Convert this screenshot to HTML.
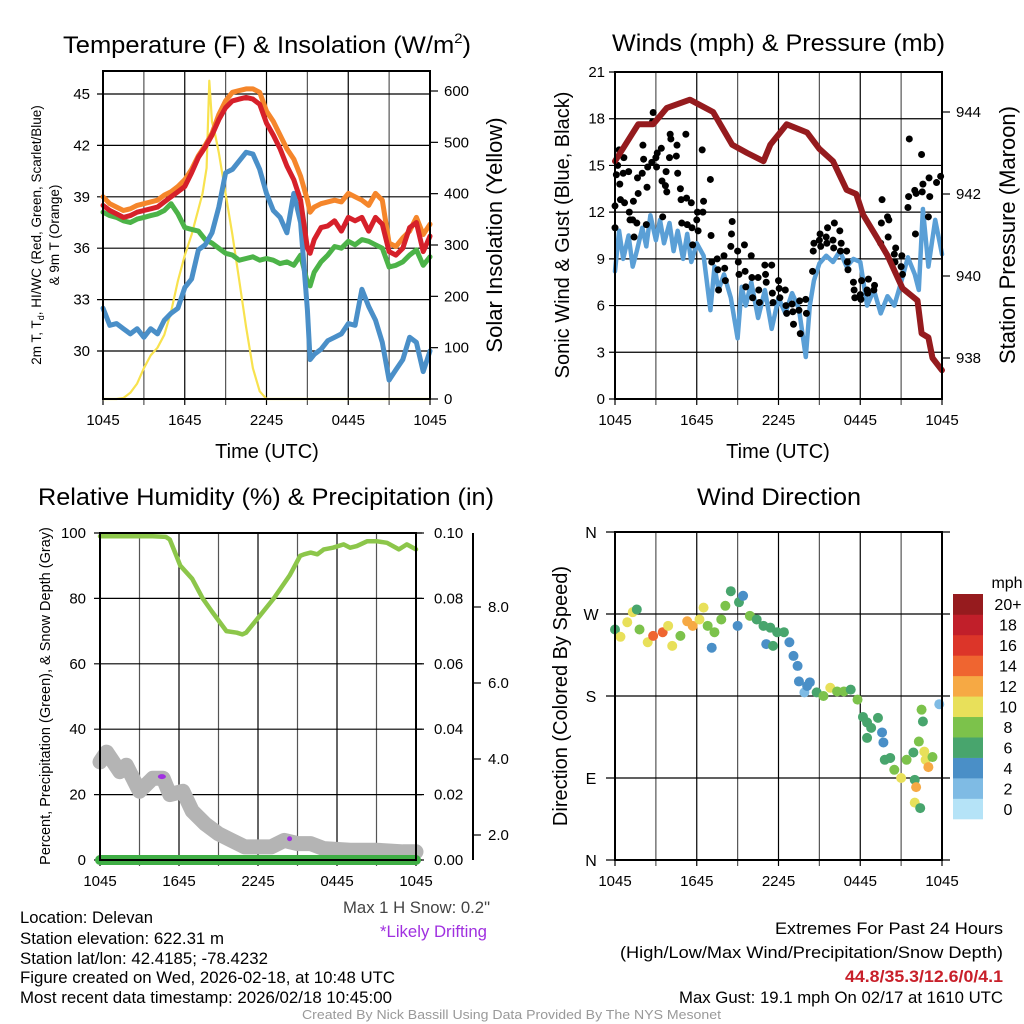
<!DOCTYPE html>
<html><head><meta charset="utf-8"><style>
html,body{margin:0;padding:0;background:#fff;}
svg{display:block;font-family:"Liberation Sans",Arial,sans-serif;}
</style></head><body>
<svg id="c" xmlns="http://www.w3.org/2000/svg" width="1024" height="1024" viewBox="0 0 1024 1024">
<rect width="1024" height="1024" fill="#fff"/>
<text x="63" y="53" font-size="24" textLength="408" lengthAdjust="spacingAndGlyphs">Temperature (F) &amp; Insolation (W/m<tspan font-size="14" dy="-10">2</tspan><tspan dy="10">)</tspan></text>
<text x="612" y="51" font-size="24" textLength="333" lengthAdjust="spacingAndGlyphs">Winds (mph) &amp; Pressure (mb)</text>
<text x="38" y="505" font-size="24" textLength="456" lengthAdjust="spacingAndGlyphs">Relative Humidity (%) &amp; Precipitation (in)</text>
<text x="697" y="505" font-size="24" textLength="164" lengthAdjust="spacingAndGlyphs">Wind Direction</text>
<text x="267" y="458" font-size="20" text-anchor="middle">Time (UTC)</text>
<text x="778" y="458" font-size="20" text-anchor="middle">Time (UTC)</text>
<text transform="translate(41,235) rotate(-90)" font-size="13.5" text-anchor="middle">2m T, T<tspan font-size="9" dy="3">d</tspan><tspan dy="-3">, HI/WC (Red, Green, Scarlet/Blue)</tspan></text>
<text transform="translate(59,235) rotate(-90)" font-size="13.5" text-anchor="middle">&amp; 9m T (Orange)</text>
<text transform="translate(502,235) rotate(-90)" font-size="22" text-anchor="middle">Solar Insolation (Yellow)</text>
<text transform="translate(569,235) rotate(-90)" font-size="20" text-anchor="middle">Sonic Wind &amp; Gust (Blue, Black)</text>
<text transform="translate(1015,235) rotate(-90)" font-size="22" text-anchor="middle">Station Pressure (Maroon)</text>
<text transform="translate(50,696) rotate(-90)" font-size="14.5" text-anchor="middle">Percent, Precipitation (Green), &amp; Snow Depth (Gray)</text>
<text transform="translate(567,696) rotate(-90)" font-size="20" text-anchor="middle">Direction (Colored By Speed)</text>
<g font-size="17">
<text x="20" y="923" textLength="133" lengthAdjust="spacingAndGlyphs">Location: Delevan</text>
<text x="20" y="944" textLength="204" lengthAdjust="spacingAndGlyphs">Station elevation: 622.31 m</text>
<text x="20" y="964" textLength="248" lengthAdjust="spacingAndGlyphs">Station lat/lon: 42.4185; -78.4232</text>
<text x="20" y="983" textLength="375" lengthAdjust="spacingAndGlyphs">Figure created on Wed, 2026-02-18, at 10:48 UTC</text>
<text x="20" y="1003" textLength="372" lengthAdjust="spacingAndGlyphs">Most recent data timestamp: 2026/02/18 10:45:00</text>
<text x="343" y="913" fill="#444" textLength="147" lengthAdjust="spacingAndGlyphs">Max 1 H Snow: 0.2"</text>
<text x="380" y="937" fill="#a030e0" textLength="107" lengthAdjust="spacingAndGlyphs">*Likely Drifting</text>
<text x="775" y="934" textLength="228" lengthAdjust="spacingAndGlyphs">Extremes For Past 24 Hours</text>
<text x="620" y="958" textLength="383" lengthAdjust="spacingAndGlyphs">(High/Low/Max Wind/Precipitation/Snow Depth)</text>
<text x="845" y="982" fill="#c8202a" font-weight="bold" textLength="158" lengthAdjust="spacingAndGlyphs">44.8/35.3/12.6/0/4.1</text>
<text x="679" y="1003" textLength="324" lengthAdjust="spacingAndGlyphs">Max Gust: 19.1 mph On 02/17 at 1610 UTC</text>
<text x="302" y="1019" font-size="13" fill="#999" textLength="419" lengthAdjust="spacingAndGlyphs">Created By Nick Bassill Using Data Provided By The NYS Mesonet</text>
</g>
</svg>
<script>
var xTickLabels = ["1045","1645","2245","0445","1045"];
var tempTicks = [30,33,36,39,42,45];
var solarTicks = [0,100,200,300,400,500,600];
var windTicks = [0,3,6,9,12,15,18,21];
var presTicks = [938,940,942,944];
var rhTicks = [0,20,40,60,80,100];
var precipTicks = ["0.00","0.02","0.04","0.06","0.08","0.10"];
var snowTicks = [2,4,6,8];
var dirLabels = ["N","E","S","W","N"];
var cbLabels = ["0","2","4","6","8","10","12","14","16","18","20+"];
var cbColors = ["#b5e3f7","#7fbbe4","#4a8fc7","#48a56d","#7cc24b","#e8e05a","#f6a944","#ef6530","#dc3529","#c11f2a","#961b1e"];

var tempT = [0,0.5,1,1.5,2,2.5,3,3.5,4,4.5,5,5.5,6,6.5,7,7.5,8,8.5,9,9.5,10,10.5,11,11.5,12,12.5,13,13.5,14,14.5,15,15.2,15.5,16,16.5,17,17.5,18,18.5,19,19.5,20,20.5,21,21.5,22,22.5,23,23.5,24];
var redT = [38.5,38.2,38.0,37.8,37.9,38.1,38.2,38.3,38.4,38.7,39.0,39.3,39.6,40.4,41.3,41.9,42.6,43.5,44.2,44.6,44.7,44.8,44.7,44.4,43.3,42.6,41.8,40.8,40.0,38.8,36.0,35.7,36.5,37.2,37.3,37.6,37.0,37.8,37.6,37.8,37.0,37.8,37.4,35.8,35.6,36.0,37.2,37.5,35.8,36.7];
var orangeT = [39.0,38.6,38.4,38.2,38.3,38.5,38.6,38.7,38.8,39.1,39.3,39.6,40.0,40.6,41.4,42.0,42.7,43.8,44.6,45.1,45.2,45.3,45.3,45.1,44.0,43.4,42.6,41.8,41.2,40.2,38.8,38.1,38.4,38.6,38.7,38.8,38.7,39.2,39.0,38.8,38.5,39.2,38.8,36.3,36.1,36.6,37.0,37.8,36.8,37.4];
var greenT = [38.1,37.9,37.8,37.6,37.5,37.7,37.8,37.9,38.0,38.2,38.6,38.0,37.2,37.1,37.0,36.5,36.3,36.0,35.7,35.6,35.3,35.4,35.5,35.3,35.4,35.3,35.1,35.2,35.0,35.6,34.0,33.8,34.6,35.2,35.6,36.1,36.0,36.4,36.2,36.5,36.4,36.2,36.0,34.9,35.0,35.2,35.6,35.9,35.0,35.5];
var blueT = [32.5,31.5,31.6,31.3,31.0,31.3,30.8,31.3,31.0,31.8,32.2,32.5,33.7,34.2,35.9,36.2,36.9,38.4,40.4,40.6,41.1,41.6,41.5,40.6,39.2,38.2,37.8,36.9,39.2,37.5,32.4,29.5,29.8,30.1,30.6,30.8,31.0,31.6,31.5,33.6,32.6,31.8,30.5,28.3,28.9,29.5,30.8,30.5,28.8,30.0];
var solarT = [0,1,1.5,2,2.5,3,3.5,4,4.5,5,5.5,6,6.5,7,7.3,7.6,7.8,8,8.2,8.5,9,9.5,10,10.5,11,11.5,12,13,16,20,24];
var solarV = [0,0,2,12,30,60,85,100,125,170,230,280,320,370,400,450,620,540,520,480,400,320,230,140,60,15,0,0,0,0,0];

var presT = [0,1.7,2.8,3.8,5.5,7.2,8.6,9.7,10.9,11.4,12.6,14.1,15,16,17,17.7,18.2,19.2,20,21.1,22.2,22.5,23,23.3,24];
var presV = [942.8,943.7,943.7,944.1,944.3,944.0,943.2,943.0,942.8,943.2,943.7,943.5,943.1,942.8,942.1,942.0,941.5,940.95,940.5,939.7,939.4,938.6,938.5,938.0,937.7];
var windT = [0,0.3,0.6,1,1.3,1.6,2,2.3,2.6,3,3.3,3.6,4,4.3,4.6,5,5.3,5.6,6,6.5,7,7.3,7.6,8,8.5,9,9.3,9.6,10,10.5,11,11.5,12,12.5,13,13.5,14,14.3,14.6,15,15.5,16,16.5,17,17.5,18,18.5,19,19.5,20,20.5,21,21.5,22,22.3,22.6,23,23.5,24];
var windV = [8.2,10.8,9.0,10.5,8.5,9.5,11.0,9.8,11.8,10.2,11.5,10.0,11.3,9.5,10.8,9.0,10.6,8.8,10.0,9.2,5.7,8.5,7.0,8.0,6.5,3.9,7.2,6.0,7.5,5.2,7.0,4.5,6.5,5.5,6.8,5.8,2.7,6.0,7.6,8.7,9.2,8.8,9.5,8.5,9.0,8.8,6.0,7.0,5.5,6.6,6.0,7.5,9.1,8.0,7.0,12.2,8.5,11.5,9.3];
var gustT = [0,0,0.1,0.2,0.3,0.35,0.4,0.6,0.65,0.7,1,1.05,1.1,1.3,1.35,1.4,1.6,1.65,1.7,2,2.05,2.1,2.3,2.35,2.4,2.7,2.75,2.8,3,3.05,3.1,3.4,3.45,3.5,3.7,3.75,3.8,4,4.05,4.1,4.5,4.55,4.6,4.8,4.85,4.9,5.2,5.25,5.3,5.6,5.65,5.7,6,6.05,6.1,6.4,6.45,6.5,7,7.05,7.1,7.5,7.55,7.6,8,8.05,8.1,8.5,8.55,8.6,9,9.05,9.1,9.5,9.55,9.6,10,10.05,10.1,10.5,10.55,10.6,11,11.05,11.1,11.5,11.55,11.6,12,12.05,12.1,12.5,12.55,12.6,13,13.05,13.1,13.5,13.55,13.6,14,14.05,14.5,14.55,14.6,15,15.05,15.1,15.5,15.55,15.6,16,16.05,16.1,16.5,16.55,16.6,17,17.05,17.1,17.5,17.55,17.6,18,18.05,18.1,18.5,18.55,18.6,19,19.05,19.5,19.55,19.6,20,20.05,20.1,20.5,20.55,20.6,21,21.05,21.1,21.5,21.55,21.6,22,22.05,22.1,22.5,22.55,22.6,23,23.05,23.1,23.6,23.9];
var gustV = [11.0,12.4,14.4,15.0,16.0,13.8,12.8,14.5,15.5,12.6,14.6,12.0,11.5,11.5,12.7,10.4,11.3,14.2,13.2,14.5,16.3,15.4,11.2,13.6,14.9,15.2,17.8,18.4,15.5,14.9,15.8,16.1,14.0,11.7,13.7,14.6,13.3,15.5,17.0,16.7,15.6,16.3,14.5,13.5,12.8,11.3,17.0,12.9,11.2,12.6,11.0,9.9,11.5,12.0,10.8,16.0,12.0,12.7,14.1,10.5,8.8,9.0,8.3,7.0,9.2,8.4,7.6,9.8,10.6,11.4,9.5,8.8,8.0,9.9,8.2,7.2,9.2,7.8,6.5,7.8,7.0,6.2,8.6,8.0,7.5,8.6,6.8,6.2,7.6,7.1,6.5,7.0,6.0,5.5,6.1,5.6,4.8,5.7,6.3,4.2,6.4,5.5,8.2,9.5,10.0,10.2,10.6,9.8,10.4,10.0,11.0,10.2,9.7,11.3,10.8,9.5,10.0,9.5,8.8,8.3,7.5,7.0,6.5,6.7,6.4,7.6,7.0,6.8,7.7,7.0,7.3,10.0,11.3,12.8,11.7,10.4,11.5,9.3,8.8,9.7,8.5,9.2,8.0,12.3,13.0,16.7,13.4,10.6,13.2,15.7,13.3,13.8,11.7,14.2,13.0,13.9,14.3];

var rhT = [0,1,2,3,4,5,5.3,5.7,6.1,7,7.8,8.5,9.6,10.4,10.8,11.1,12.2,13.2,14.4,15.2,15.5,16,16.5,17,17.7,18.5,19,19.5,20.3,21,21.8,22.7,23.3,24];
var rhV = [99,99,99,99,99,98.8,98,94,90,86,80,76,70,69.5,69,69.5,75,80,87,93,93.5,94,93.5,95,95.5,96.5,95.5,96,97.5,97.5,97,95,96.5,95];
var snowT = [0,0.5,1.5,2,3,4,4.8,5.3,6.3,7,8,9,10,11,12,13,14,15,16,17,19,21,23,24];
var snowV = [30,33,27,29,21,25,25,20,21,15,11,8,6,4,4,4,6,5,5,3.5,3,3,2.5,2.5];
var precipT = [0,24];
var precipV = [0,0];
var driftT = [4.7,14.4];
var driftV = [25.5,6.5];

var dirT = [0,0.4,0.9,1.3,1.6,1.8,2.4,2.8,3.5,3.9,4.2,4.8,5.3,5.7,6.2,6.5,6.8,7.1,7.3,7.8,8.1,8.5,9.0,9.1,9.4,9.9,10.4,10.9,11.4,11.1,11.6,11.9,12.4,12.8,13.1,13.4,13.5,13.9,14.1,14.3,14.8,15.3,15.8,16.3,16.8,17.3,17.8,18.2,18.5,18.8,19.3,19.6,19.7,18.5,19.8,20.2,20.5,21.0,21.4,21.9,22.0,22.1,22.0,22.4,22.5,22.6,22.3,22.7,22.8,23.0,23.3,23.8];
var dirV = [253,245,261,272,275,253,239,246,250,257,235,246,262,257,264,277,257,233,250,264,279,295,257,283,290,268,264,257,255,237,235,250,250,239,224,213,196,184,191,195,184,180,189,185,185,187,176,157,151,145,156,140,129,134,110,112,99,90,110,118,88,80,63,57,165,152,130,119,110,102,113,171];
var dirS = [6,10,10,10,6,8,10,14,14,10,10,8,12,12,10,10,8,4,8,8,8,6,4,6,4,8,6,6,6,4,6,6,6,4,4,4,4,2,4,4,6,8,10,8,8,6,8,6,6,6,6,4,4,6,6,6,8,10,8,6,6,12,10,6,8,6,8,10,10,12,8,2];

var NS = "http://www.w3.org/2000/svg";
var svg = document.getElementById("c");
function mk(tag, attrs, parent){
  var e = document.createElementNS(NS, tag);
  for (var k in attrs) e.setAttribute(k, attrs[k]);
  (parent || svg).appendChild(e);
  return e;
}
function lin(d0,d1,r0,r1){ return function(v){ return r0 + (v-d0)/(d1-d0)*(r1-r0); }; }
function pathD(xs, ys, fx, fy){
  var d = "";
  for (var i=0;i<xs.length;i++) d += (i?"L":"M") + fx(xs[i]).toFixed(1) + "," + fy(ys[i]).toFixed(1);
  return d;
}
function gridV(g, x0, x1, y0, y1){
  for (var h=0; h<=24; h+=3){
    var x = x0 + h/24*(x1-x0);
    var l = mk("line",{x1:x,x2:x,y1:y0,y2:y1,stroke:(h%6==0)?"#000":"#555","stroke-width":1.2},g);
    
    
  }
}
function xLabels(g, x0, x1, y){
  for (var i=0;i<xTickLabels.length;i++){
    var t = mk("text",{x:x0+i/4*(x1-x0),y:y,"font-size":15,"text-anchor":"middle"},g);
    t.textContent = xTickLabels[i];
    
    
  }
}
function frame(g,x0,x1,y0,y1){
  var r = mk("rect",{x:x0,y:y0,width:x1-x0,height:y1-y0,fill:"none",stroke:"#000","stroke-width":2},g);
  
  
}
function hGrid(g,ticks,fy,x0,x1,lx,anchor,fmt){
  for (var i=0;i<ticks.length;i++){
    var y = fy(ticks[i]);
    var l = mk("line",{x1:x0-6,x2:x1,y1:y,y2:y,stroke:"#000","stroke-width":1.2},g);
    
    
    var t = mk("text",{x:lx,y:y+5,"font-size":15,"text-anchor":anchor},g);
    t.textContent = fmt ? fmt(ticks[i],i) : ticks[i];
    
    
  }
}
function rTicks(g,ticks,fy,x,lx,fmt){
  for (var i=0;i<ticks.length;i++){
    var y = fy(ticks[i]);
    var l = mk("line",{x1:x,x2:x+8,y1:y,y2:y,stroke:"#000","stroke-width":1.2},g);
    
    
    var t = mk("text",{x:lx,y:y+5,"font-size":15,"text-anchor":"start"},g);
    t.textContent = fmt ? fmt(ticks[i],i) : ticks[i];
    
    
  }
}
function series(g,xs,ys,fx,fy,color,w,name){
  var p = mk("path",{d:pathD(xs,ys,fx,fy),fill:"none",stroke:color,"stroke-width":w,"stroke-linejoin":"round","stroke-linecap":"round"},g);
  
  
}

var g1 = mk("g",{});


var X1 = lin(0,24,103,430), Y1 = lin(30,45,351,94), S1 = lin(0,600,399,91);
gridV(g1,103,430,71,405);
hGrid(g1,tempTicks,Y1,103,430,90,"end");
rTicks(g1,solarTicks,S1,430,444);
xLabels(g1,103,430,425);
series(g1,solarT,solarV,X1,S1,"#f8e24e",2.2,"solar-insolation-line");
series(g1,tempT,orangeT,X1,Y1,"#f5862b",5,"9m-temperature-line");
series(g1,tempT,greenT,X1,Y1,"#4cb348",5,"dewpoint-line");
series(g1,tempT,blueT,X1,Y1,"#4a8fc8",5,"wind-chill-line");
series(g1,tempT,redT,X1,Y1,"#d6202a",5,"temperature-line");
frame(g1,103,430,71,399);

var g2 = mk("g",{});


var X2 = lin(0,24,615,942), Y2 = lin(0,21,399,72), P2 = lin(938,944,358,112);
gridV(g2,615,942,72,405);
hGrid(g2,windTicks,Y2,615,942,605,"end");
rTicks(g2,presTicks,P2,942,956);
xLabels(g2,615,942,425);
series(g2,windT,windV,X2,Y2,"#5a9fd6",4.5,"wind-speed-line");
for (var i=0;i<gustT.length;i++){
  var c = mk("circle",{cx:X2(gustT[i]),cy:Y2(gustV[i]),r:3.5,fill:"#000"},g2);
  
  
}
series(g2,presT,presV,X2,P2,"#951b1e",6,"pressure-line");
frame(g2,615,942,72,399);

var g3 = mk("g",{});


var X3 = lin(0,24,100,416), Y3 = lin(0,100,860,533), SN = lin(2,8,835,607);
gridV(g3,100,416,533,866);
hGrid(g3,rhTicks,Y3,100,422,86,"end");
rTicks(g3,[0,20,40,60,80,100],Y3,416,434,function(v,i){return precipTicks[i];});
xLabels(g3,100,416,886);
var ax = mk("line",{x1:473,x2:473,y1:533,y2:860,stroke:"#000","stroke-width":2},g3);


for (var i=0;i<snowTicks.length;i++){
  var y = SN(snowTicks[i]);
  var l = mk("line",{x1:473,x2:481,y1:y,y2:y,stroke:"#000","stroke-width":1.2},g3);
  
  
  var t = mk("text",{x:488,y:y+5,"font-size":15},g3);
  t.textContent = snowTicks[i].toFixed(1);
  
  
}
series(g3,snowT,snowV,X3,Y3,"#b4b4b4",15,"snow-depth-line");
series(g3,rhT,rhV,X3,Y3,"#8cc64a",4.5,"relative-humidity-line");
series(g3,precipT,precipV,X3,Y3,"#3fae45",10,"precipitation-line");
for (var i=0;i<driftT.length;i++){
  var e = mk("ellipse",{cx:X3(driftT[i]),cy:Y3(driftV[i]),rx:i==0?4:2.5,ry:2.5,fill:"#a030e0"},g3);
  
  
}
frame(g3,100,416,533,860);

var g4 = mk("g",{});


var X4 = lin(0,24,615,942), Y4 = lin(0,360,860,532);
gridV(g4,615,942,532,866);
for (var i=0;i<dirLabels.length;i++){
  var y = Y4(i*90);
  var l = mk("line",{x1:606,x2:950,y1:y,y2:y,stroke:"#000","stroke-width":1.2},g4);
  
  
  var t = mk("text",{x:591,y:y+6,"font-size":16,"text-anchor":"middle"},g4);
  t.textContent = dirLabels[i];
  
  
}
xLabels(g4,615,942,886);
for (var i=0;i<dirT.length;i++){
  var k = Math.min(10, Math.round(dirS[i]/2));
  var c = mk("circle",{cx:X4(dirT[i]),cy:Y4(dirV[i]),r:5,fill:cbColors[k]},g4);
  
  
}
var cbH = (819-594)/cbColors.length;
for (var i=0;i<cbColors.length;i++){
  var yy = 819 - (i+1)*cbH;
  var r = mk("rect",{x:953,y:yy,width:30,height:cbH+0.3,fill:cbColors[i]},g4);
  
  
  var t = mk("text",{x:1008,y:yy+cbH/2+6,"font-size":16,"text-anchor":"middle"},g4);
  t.textContent = cbLabels[i];
  
  
}
var mt = mk("text",{x:1007,y:588,"font-size":16,"text-anchor":"middle"},g4);
mt.textContent = "mph";


frame(g4,615,942,532,860);
</script>
</body></html>
